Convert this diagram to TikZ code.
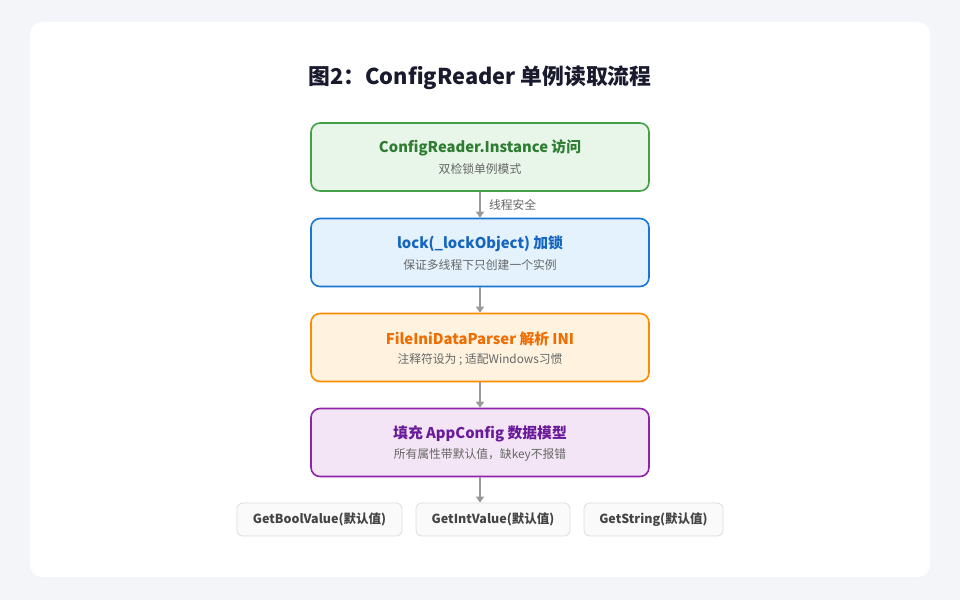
\documentclass[tikz,border=0pt]{standalone}
\usepackage{fontspec}
\setmainfont{Noto Sans CJK SC}
\usetikzlibrary{positioning,arrows.meta}
\definecolor{pagebg}{HTML}{F4F5F9}
\definecolor{titlec}{HTML}{1A1A2E}
\definecolor{subc}{HTML}{666666}
\definecolor{arrc}{HTML}{999999}
\definecolor{grnb}{HTML}{43A047}
\definecolor{grnf}{HTML}{E8F5E9}
\definecolor{grnt}{HTML}{2E7D32}
\definecolor{blub}{HTML}{1976D2}
\definecolor{bluf}{HTML}{E3F2FD}
\definecolor{blut}{HTML}{1565C0}
\definecolor{orab}{HTML}{FB8C00}
\definecolor{oraf}{HTML}{FFF3E0}
\definecolor{orat}{HTML}{EF6C00}
\definecolor{purb}{HTML}{8E24AA}
\definecolor{purf}{HTML}{F3E5F5}
\definecolor{purt}{HTML}{6A1B9A}
\definecolor{getf}{HTML}{FAFAFA}
\definecolor{getb}{HTML}{DDDDDD}
\definecolor{gett}{HTML}{444444}

\begin{document}
\begin{tikzpicture}[x=1pt,y=-1pt,
    stepbox/.style={draw,line width=1.6pt,rounded corners=9pt,minimum width=338pt,minimum height=68pt},
    boxtitle/.style={font=\fontsize{14.8}{16}\selectfont\bfseries},
    boxsub/.style={font=\fontsize{11.8}{13}\selectfont,text=subc},
    getbox/.style={draw=getb,fill=getf,line width=0.8pt,rounded corners=6pt,minimum height=33pt,text=gett,font=\fontsize{12.5}{14}\selectfont\bfseries},
    flow/.style={draw=arrc,line width=1.5pt,-{Triangle[length=6pt,width=8pt]}}]
		% background and card
		\fill[pagebg] (0,0) rectangle (960,600);
		\useasboundingbox (0,0) rectangle (960,600);
		\fill[white] (30,22) [rounded corners=12pt] rectangle (930,577);
		\node[text=titlec,font=\fontsize{21.8}{24}\selectfont\bfseries] (title) at (480,78) {图2：ConfigReader 单例读取流程};
		% the four steps
		\node[stepbox,draw=grnb,fill=grnf] (access) at (480,157) {};
		\node[stepbox,draw=blub,fill=bluf] (lock) at (480,252.5) {};
		\node[stepbox,draw=orab,fill=oraf] (parse) at (480,347.5) {};
		\node[stepbox,draw=purb,fill=purf] (fill) at (480,442.5) {};
		\node[boxtitle,text=grnt] (accesst) at ([yshift=9pt]access.center) {ConfigReader.Instance 访问};
		\node[boxsub] (accesss) at ([yshift=-12pt]access.center) {双检锁单例模式};
		\node[boxtitle,text=blut] (lockt) at ([yshift=9pt]lock.center) {lock(\_lockObject) 加锁};
		\node[boxsub] (locks) at ([yshift=-12pt]lock.center) {保证多线程下只创建一个实例};
		\node[boxtitle,text=orat] (parset) at ([yshift=9pt]parse.center) {FileIniDataParser 解析 INI};
		\node[boxsub] (parses) at ([yshift=-12pt]parse.center) {注释符设为 ; 适配Windows习惯};
		\node[boxtitle,text=purt] (fillt) at ([yshift=9pt]fill.center) {填充 AppConfig 数据模型};
		\node[boxsub] (fills) at ([yshift=-12pt]fill.center) {所有属性带默认值，缺key不报错};
		% getters
		\node[getbox,minimum width=165pt] (getbool) at (319.5,519.5) {GetBoolValue(默认值)};
		\node[getbox,minimum width=154pt] (getint) at (493,519.5) {GetIntValue(默认值)};
		\node[getbox,minimum width=139pt] (getstr) at (653.5,519.5) {GetString(默认值)};
		% arrows
		\draw[flow] (access) -- (lock) node[midway,right=5pt,font=\fontsize{11.8}{13}\selectfont,text=subc] {线程安全};
		\draw[flow] (lock) -- (parse);
		\draw[flow] (parse) -- (fill);
		\draw[flow] (fill.south) -- (fill.south |- getint.north);
\end{tikzpicture}
\end{document}
